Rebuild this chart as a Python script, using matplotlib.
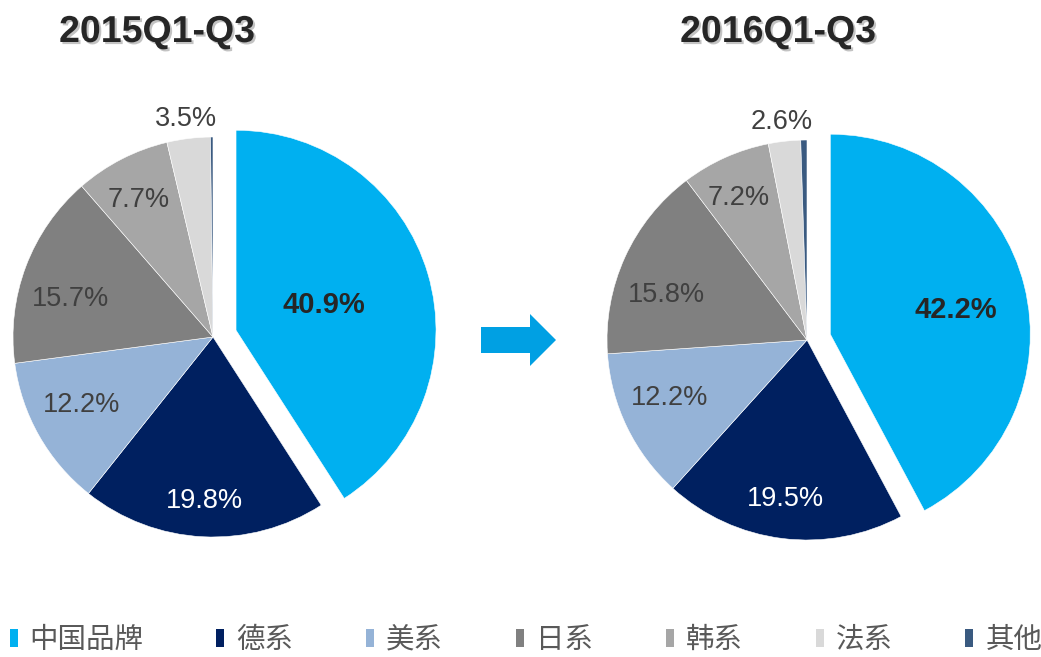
import numpy as np
import matplotlib
matplotlib.use("Agg")
import matplotlib.pyplot as plt
from matplotlib.patches import Patch, Polygon
import matplotlib.patheffects as pe

plt.rcParams['font.family'] = ['Liberation Sans', 'Noto Sans CJK SC', 'DejaVu Sans']

categories = ["中国品牌", "德系", "美系", "日系", "韩系", "法系", "其他"]
colors = ["#00B0F0", "#002060", "#95B3D7", "#808080", "#A6A6A6", "#D9D9D9", "#3A5A80"]
titles = ["2015Q1-Q3", "2016Q1-Q3"]
share_2015 = [40.9, 19.8, 12.2, 15.7, 7.7, 3.5, 0.2]
share_2016 = [42.2, 19.5, 12.2, 15.8, 7.2, 2.6, 0.5]
shown_2015 = ["40.9%", "19.8%", "12.2%", "15.7%", "7.7%", "3.5%", None]
shown_2016 = ["42.2%", "19.5%", "12.2%", "15.8%", "7.2%", "2.6%", None]

W, H = 1041, 657
fig = plt.figure(figsize=(W / 100, H / 100), dpi=100)

# pixel overlay for arrow / titles
bg = fig.add_axes([0, 0, 1, 1])
bg.set_xlim(0, W)
bg.set_ylim(H, 0)
bg.axis("off")

R = 200.0   # pie radius in px
L = 1.25    # axes half-range in data units
explode0 = 0.12

# label placement: distance from centre and small angle nudge from the bisector
label_dist = [
    [0.46, 0.81, 0.735, 0.74, 0.79, 1.11, 0],
    [0.64, 0.79, 0.74, 0.74, 0.80, 1.11, 0],
]
label_nudge = [
    [1, 0, -3, 5, 1, 0, 0],
    [-2, -1, -4, 6, 1, 0, 0],
]
label_colors = ["#262626", "white", "#404040", "#404040", "#404040", "#404040", "#404040"]


def draw_pie(cx, cy, values, labels, dists, nudges, title, title_x):
    side = 2 * L * R
    ax = fig.add_axes([(cx - L * R) / W, (H - cy - L * R) / H, side / W, side / H])
    explode = [explode0] + [0] * (len(values) - 1)
    ax.pie(values, colors=colors, startangle=90, counterclock=False, explode=explode,
           radius=1, wedgeprops=dict(edgecolor="white", linewidth=0.4))
    ax.set_xlim(-L, L)
    ax.set_ylim(-L, L)
    ax.set_aspect("equal")
    ax.axis("off")

    total = float(sum(values))
    cum = np.cumsum(values) - np.array(values) / 2.0
    for i, lab in enumerate(labels):
        if lab is None:
            continue
        ang = np.deg2rad(90 - 360 * cum[i] / total + nudges[i])
        mid = np.deg2rad(90 - 360 * cum[i] / total)
        x = dists[i] * np.cos(ang) + explode[i] * np.cos(mid)
        y = dists[i] * np.sin(ang) + explode[i] * np.sin(mid) - 0.012
        bold = i == 0
        ax.text(x, y, lab, ha="center", va="center",
                fontsize=21 if bold else 19.5,
                fontweight="bold" if bold else "normal",
                color=label_colors[i])

    bg.text(title_x, 32, title, ha="center", va="center", fontsize=27,
            fontweight="bold", color="#262626",
            path_effects=[pe.withSimplePatchShadow(offset=(1.5, -1.5), shadow_rgbFace="#888888", alpha=0.5)])


draw_pie(213, 337, share_2015, shown_2015, label_dist[0], label_nudge[0], titles[0], 157)
draw_pie(807, 340, share_2016, shown_2016, label_dist[1], label_nudge[1], titles[1], 778)

# arrow between pies
arrow = Polygon([(481, 327), (530, 327), (530, 314), (556, 340),
                 (530, 366), (530, 353), (481, 353)],
                closed=True, facecolor="#00A0E3", edgecolor="none")
bg.add_patch(arrow)

handles = [Patch(facecolor=c, edgecolor="none") for c in colors]
leg = fig.legend(handles, categories, loc="center", bbox_to_anchor=(526 / W, 1 - 640 / H),
                 ncol=7, frameon=False, handlelength=0.28, handleheight=0.55,
                 handletextpad=0.42, columnspacing=2.56, borderpad=0.2,
                 prop={"family": ["Noto Sans CJK SC", "DejaVu Sans"], "size": 20.5})
for t in leg.get_texts():
    t.set_color("#595959")

fig.savefig("out.png", dpi=100)
